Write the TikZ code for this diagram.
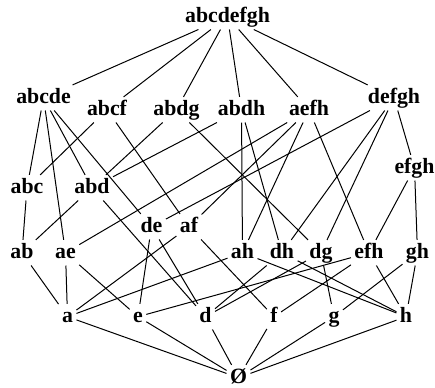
\documentclass[tikz,border=0pt]{standalone}
\usepackage{fontspec}
\setmainfont{Liberation Serif}
\begin{document}
\begin{tikzpicture}[x=0.5pt,y=-0.5pt,line width=0.5pt,
    every node/.style={font=\fontsize{10.9}{13}\selectfont\bfseries, anchor=base, inner sep=1.5pt, text height=7.3pt, text depth=2pt}]
      \useasboundingbox (0,0) rectangle (435,387);
      \foreach \n/\x/\y/\t in {top/227.5/22/abcdefgh,
        abcde/43.5/103/abcde, abcf/107/115/abcf, abdg/176.5/115/abdg, abdh/241.5/115/abdh, aefh/309/115/aefh, defgh/394/103/defgh,
        abc/27/193/abc, abd/92/193/abd, efgh/414.5/173/efgh,
        de/151.5/232/de, af/189/232/af,
        ab/22/258/ab, ae/65.5/258/ae, ah/242.5/258/ah, dh/282/258/dh, dg/321/258/dg, efh/369/258/efh, gh/417.5/258/gh,
        a/67.5/322/a, e/138/322/e, d/205.5/322/d, f/274/322/f, g/334/322/g, h/406/322/h,
        empty/238.5/383/Ø}{
        \node(\n) at(\x,\y) {\t};
      }
      \foreach \p/\q in {top/abcde, top/abcf, top/abdg, top/abdh, top/aefh, top/defgh,
        abcde/abc, abcde/abd, abcde/de, abcde/ae, abcf/abc, abcf/af, abdg/abd, abdg/dg,
        abdh/abd, abdh/ah, abdh/dh, aefh/ae, aefh/af, aefh/ah, aefh/efh,
        defgh/de, defgh/dh, defgh/dg, defgh/efgh,
        abc/ab, abd/ab, abd/d, efgh/efh, efgh/gh,
        de/d, de/e, af/a, af/f, ab/a, ae/a, ae/e, ah/a, ah/h, dh/d, dh/h, dg/d, dg/g,
        efh/e, efh/f, efh/h, gh/g, gh/h}{
        \draw(\p)--(\q);
      }
      \foreach \p in {a, e, d, f, g, h}{
        \draw(\p)--(empty);
      }
    \end{tikzpicture}
\end{document}
